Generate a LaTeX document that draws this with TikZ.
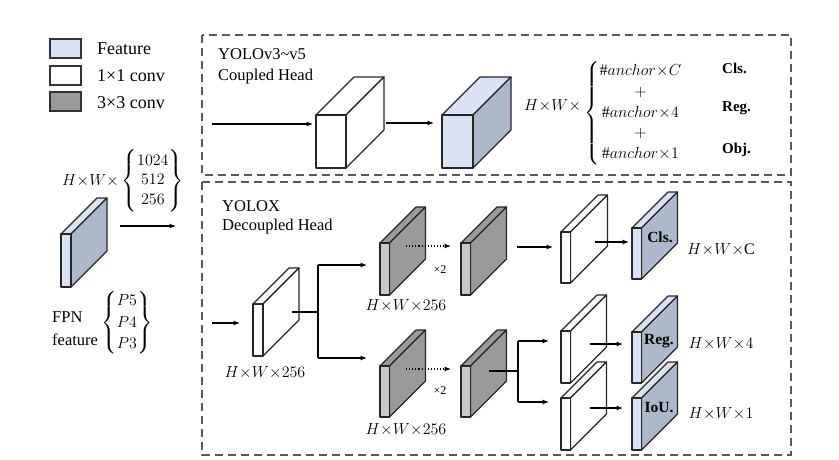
\documentclass[tikz,border=0pt]{standalone}
\usepackage{fix-cm}
\usepackage{fontspec}
\setmainfont{Liberation Serif}
\usepackage{amsmath}
\usetikzlibrary{arrows.meta}
\definecolor{featF}{HTML}{DAE3F3}
\definecolor{featS}{HTML}{ADB9CA}
\definecolor{grayF}{HTML}{C8C8C8}
\definecolor{grayS}{HTML}{9A9A9A}
\definecolor{dashc}{HTML}{595959}
\newcommand{\tm}{\mkern0.3mu{\times}\mkern0.3mu}
\newcommand{\mycuboid}[8]{%
  \filldraw[cubeline, fill=#8] (#1,#2) -- ++(#5,-#5) -- ++(#3,0) -- ++(-#5,#5) -- cycle;
  \filldraw[cubeline, fill=#7] (#1+#3,#2) -- ++(#5,-#5) -- ++(0,#4) -- ++(-#5,#5) -- cycle;
  \filldraw[cubeline, fill=#6] (#1,#2) rectangle ++(#3,#4);
}
\tikzset{
  cubeline/.style={line width=1.1pt, draw=black!85, line join=round},
  legbox/.style={draw=black!80, line width=1.3pt, minimum width=31pt, minimum height=19pt, inner sep=0pt},
  legtxt/.style={anchor=base west, inner sep=0pt, font=\fontsize{18}{21}\selectfont},
  txt/.style={anchor=base west, inner sep=0pt, font=\fontsize{16.5}{19}\selectfont},
  mth/.style={inner sep=0pt, font=\fontsize{16}{19}\selectfont},
  lab/.style={anchor=base west, inner sep=0pt, font=\fontsize{15}{18}\selectfont\bfseries},
  inlab/.style={inner sep=0pt, font=\fontsize{15.5}{18}\selectfont\bfseries},
  small/.style={inner sep=0pt, font=\fontsize{12}{14}\selectfont},
  dashbox/.style={draw=dashc, line width=2.2pt, dash pattern=on 8pt off 5pt},
  arr/.style={-{Latex[length=6.5pt,width=5pt]}, line width=1.1pt},
  darr/.style={-{Latex[length=6.5pt,width=5pt]}, line width=1.1pt, dotted},
  ln/.style={line width=1.3pt},
}
\begin{document}
\begin{tikzpicture}[x=1pt,y=-1pt]
\useasboundingbox (0,0) rectangle (839,459);
% legend
\node[legbox, fill=featF] (lg1) at (65.5,48.5) {};
\node[legbox, fill=white] (lg2) at (65.5,75.5) {};
\node[legbox, fill=grayS] (lg3) at (65.5,101.5) {};
\node[legtxt] (lt1) at (97,54) {Feature};
\node[legtxt] (lt2) at (97,81) {1×1 conv};
\node[legtxt] (lt3) at (97,108) {3×3 conv};
% dashed boxes
\draw[dashbox] (202,35) rectangle (791,175);
\draw[dashbox] (202,182) rectangle (791,455);
\node[txt] (t1) at (218,59) {YOLOv3\textasciitilde v5};
\node[txt] (t2) at (218,80) {Coupled Head};
\node[txt] (t3) at (222,211) {YOLOX};
\node[txt] (t4) at (222,230) {Decoupled Head};
% FPN
\mycuboid{61}{234}{10}{53}{36}{featF}{featS}{featF}
\node[mth] (lhw) at (123,181) {\renewcommand{\arraystretch}{1.03}$H\tm W\tm\left\{\begin{array}{@{}c@{}}1024\\512\\256\end{array}\right\}$};
\node[txt] (fpn1) at (52,322) {FPN};
\node[txt] (fpn2) at (52,345) {feature};
\node[mth] (fpnb) at (127,323) {\renewcommand{\arraystretch}{1.13}$\left\{\begin{array}{@{}c@{}}P5\\P4\\P3\end{array}\right\}$};
% coupled head
\mycuboid{316}{115}{30}{53}{38}{white}{white}{white}
\mycuboid{442}{115}{31}{53}{38}{featF}{featS}{featF}
\node[mth, anchor=west] (chw) at (524,106) {$H\tm W\tm$};
\node[mth, anchor=west] (carr) at (584,113) {\renewcommand{\arraystretch}{1.09}$\left\{\begin{array}{@{}c@{}}\#anchor\tm C\\+\\\#anchor\tm 4\\+\\\#anchor\tm 1\end{array}\right.$};
\node[lab] (cls1) at (722,73) {Cls.};
\node[lab] (reg1) at (722,111) {Reg.};
\node[lab] (obj1) at (722,153) {Obj.};
% decoupled head
\mycuboid{253}{304}{10}{52}{36}{white}{white}{white}
\mycuboid{380}{243}{9.5}{52}{36}{grayF}{grayS}{grayS}
\mycuboid{461}{243}{9.5}{52}{36}{grayF}{grayS}{grayS}
\mycuboid{380}{366}{9.5}{51}{36}{grayF}{grayS}{grayS}
\mycuboid{461}{366}{9.5}{51}{36}{grayF}{grayS}{grayS}
\mycuboid{561}{232}{9.5}{51}{37}{white}{white}{white}
\mycuboid{561}{331}{9.5}{52}{36}{white}{white}{white}
\mycuboid{561}{398}{9.5}{52}{36}{white}{white}{white}
\mycuboid{632}{228}{9.5}{51}{36}{featF}{featS}{featF}
\mycuboid{632}{332}{9.5}{51}{36}{featF}{featS}{featF}
\mycuboid{632}{398}{9.5}{52}{36}{featF}{featS}{featF}
\node[inlab] (cls2) at (660,237) {Cls.};
\node[inlab] (reg2) at (659,341) {Reg.};
\node[inlab] (iou2) at (659,408) {IoU.};
\node[mth] (hw1) at (265,373) {$H\tm W\tm 256$};
\node[mth] (hw2) at (406,306) {$H\tm W\tm 256$};
\node[mth] (hw3) at (406,430) {$H\tm W\tm 256$};
\node[mth] (hwc) at (721,250) {$H\tm W\tm \mathrm{C}$};
\node[mth] (hw4) at (721,344) {$H\tm W\tm 4$};
\node[mth] (hw5) at (721,414) {$H\tm W\tm 1$};
\node[small] (x2a) at (440,270) {×2};
\node[small] (x2b) at (440,391) {×2};
% connector coordinates
\coordinate (a1s) at (212,124); \coordinate (a1e) at (313,124);
\coordinate (a2s) at (386,123); \coordinate (a2e) at (434,123);
\coordinate (f1s) at (120,226); \coordinate (f1e) at (176,226);
\coordinate (d0s) at (212,323); \coordinate (d0e) at (240,323);
\coordinate (w1o) at (292,312); \coordinate (sp1) at (318,312);
\coordinate (sp1t) at (318,265); \coordinate (sp1b) at (318,358);
\coordinate (g1i) at (367,265); \coordinate (g3i) at (367,358);
\coordinate (g1o) at (406,246); \coordinate (g2i) at (451,246);
\coordinate (g3o) at (406,369); \coordinate (g4i) at (451,369);
\coordinate (g2o) at (517,247); \coordinate (w2i) at (553,247);
\coordinate (g4o) at (489,371); \coordinate (sp2) at (518,371);
\coordinate (sp2t) at (518,341); \coordinate (sp2b) at (518,402);
\coordinate (w3i) at (549,341); \coordinate (w4i) at (549,402);
\coordinate (w2o) at (595,242); \coordinate (b1i) at (629,242);
\coordinate (w3o) at (590,344); \coordinate (b2i) at (623,344);
\coordinate (w4o) at (590,408); \coordinate (b3i) at (623,408);
% connectors
\draw[arr] (a1s) -- (a1e);
\draw[arr] (a2s) -- (a2e);
\draw[arr] (f1s) -- (f1e);
\draw[arr] (d0s) -- (d0e);
\draw[ln] (w1o) -- (sp1);
\draw[ln] (sp1t) -- (sp1b);
\draw[arr] (sp1t) -- (g1i);
\draw[arr] (sp1b) -- (g3i);
\draw[darr] (g1o) -- (g2i);
\draw[darr] (g3o) -- (g4i);
\draw[arr] (g2o) -- (w2i);
\draw[ln] (g4o) -- (sp2);
\draw[ln] (sp2t) -- (sp2b);
\draw[arr] (sp2t) -- (w3i);
\draw[arr] (sp2b) -- (w4i);
\draw[arr] (w2o) -- (b1i);
\draw[arr] (w3o) -- (b2i);
\draw[arr] (w4o) -- (b3i);
\end{tikzpicture}
\end{document}
